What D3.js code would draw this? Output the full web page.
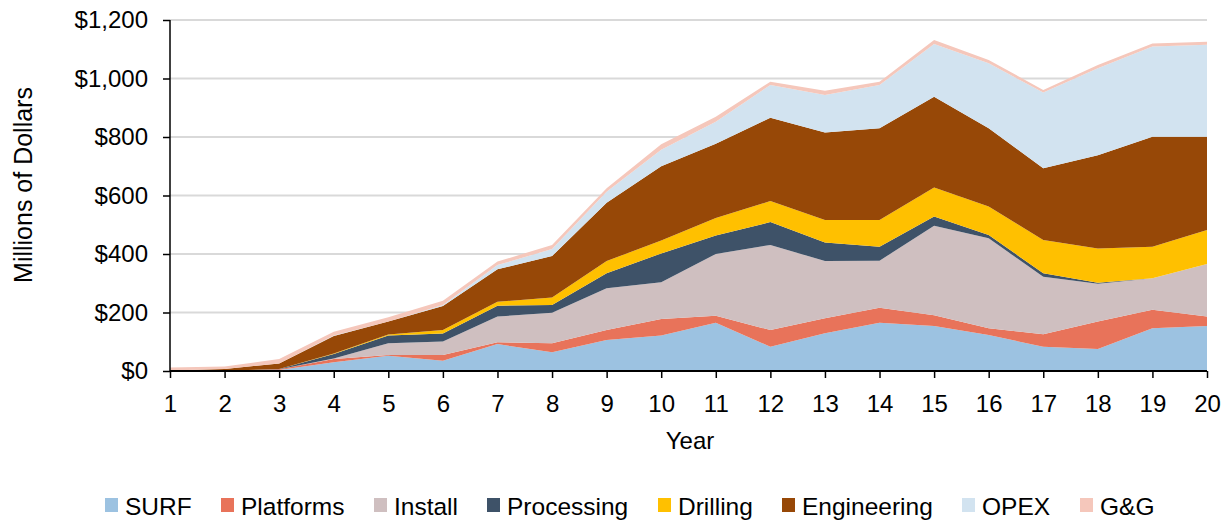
<!DOCTYPE html>
<html>
<head>
<meta charset="utf-8">
<script src="https://cdn.jsdelivr.net/npm/d3@7"></script>
<style>
  html, body { margin: 0; padding: 0; background: #fff; }
  svg { display: block; font-family: "Liberation Sans", Arial, sans-serif; }
</style>
</head>
<body>
<svg id="chart" width="1229" height="523"></svg>
<script>
// ---- data ----
const years = [1,2,3,4,5,6,7,8,9,10,11,12,13,14,15,16,17,18,19,20];
const seriesNames = ["SURF","Platforms","Install","Processing","Drilling","Engineering","OPEX","G&G"];
const surf        = [0, 1, 3, 30, 52, 35, 92, 64, 106, 121, 165, 83, 129, 165, 154, 123, 83, 75, 146, 154];
const platforms   = [0, 0, 3, 11, 3, 20, 6, 31, 34, 57, 24, 57, 51, 51, 37, 23, 43, 94, 63, 32];
const install     = [0, 0, 0, 2, 40, 46, 88, 104, 143, 125, 211, 291, 196, 161, 306, 308, 196, 129, 108, 180];
const processing  = [0, 0, 1, 15, 26, 27, 37, 27, 51, 99, 63, 78, 63, 48, 31, 11, 12, 4, 0, 0];
const drilling    = [0, 0, 0, 2, 4, 12, 14, 25, 42, 44, 60, 72, 77, 91, 99, 97, 114, 117, 108, 116];
const engineering = [2, 6, 19, 60, 44, 82, 111, 142, 199, 254, 254, 285, 299, 314, 311, 268, 245, 319, 376, 319];
const opex        = [0, 0, 0, 1, 0, 4, 14, 24, 38, 56, 75, 112, 129, 148, 180, 222, 259, 297, 308, 314];
const gg          = [10, 8, 15, 13, 15, 14, 12, 14, 12, 19, 17, 11, 14, 11, 14, 11, 9, 11, 11, 11];
const yTicks = [0, 200, 400, 600, 800, 1000, 1200];
const colors = ["#9cc2e1", "#e8735a", "#cfbfc0", "#3e5268", "#ffc000", "#974807", "#d2e3f0", "#f5c7bb"];

// ---- layout ----
const svg = d3.select("#chart");
const mLeft = 170, mRight = 1207, mTop = 20, mBottom = 371;
const fontSize = 24;
const legendFont = 24.5;

const x = d3.scaleLinear().domain([1, 20]).range([mLeft, mRight]);
const y = d3.scaleLinear().domain([0, 1200]).range([mBottom, mTop]);

const valuesBySeries = [surf, platforms, install, processing, drilling, engineering, opex, gg];
const table = years.map((yr, i) => {
  const row = { year: yr };
  seriesNames.forEach((k, j) => row[k] = valuesBySeries[j][i]);
  return row;
});

// gridlines
svg.append("g")
  .selectAll("line")
  .data(yTicks.filter(d => d > 0))
  .join("line")
  .attr("x1", mLeft).attr("x2", mRight)
  .attr("y1", d => y(d)).attr("y2", d => y(d))
  .attr("stroke", "#d9d9d9").attr("stroke-width", 2);

// stacked areas
const stack = d3.stack().keys(seriesNames);
const layers = stack(table);
const area = d3.area()
  .x(d => x(d.data.year))
  .y0(d => y(d[0]))
  .y1(d => y(d[1]));

svg.append("g")
  .selectAll("path")
  .data(layers)
  .join("path")
  .attr("d", area)
  .attr("fill", (d, i) => colors[i]);

// y axis
const yAxis = d3.axisLeft(y)
  .tickValues(yTicks)
  .tickSize(7)
  .tickPadding(15)
  .tickFormat(d => "$" + d3.format(",")(d));
const gy = svg.append("g").attr("transform", `translate(${mLeft},0)`).call(yAxis);
gy.select(".domain").attr("stroke", "#000").attr("stroke-width", 1.5).attr("d", `M0,${mTop}V${mBottom}`);
gy.selectAll(".tick line").attr("stroke", "#000").attr("stroke-width", 1.5);
gy.selectAll("text").attr("font-size", fontSize).attr("fill", "#000")
  .attr("font-family", "Liberation Sans, Arial, sans-serif");

// x axis
const xAxis = d3.axisBottom(x)
  .tickValues(years)
  .tickSize(7)
  .tickPadding(17)
  .tickFormat(d3.format("d"));
const gx = svg.append("g").attr("transform", `translate(0,${mBottom})`).call(xAxis);
gx.select(".domain").attr("stroke", "#000").attr("stroke-width", 2).attr("d", `M${mLeft},0H${mRight}`);
gx.selectAll(".tick line").attr("stroke", "#000").attr("stroke-width", 1.5);
gx.selectAll("text").attr("font-size", fontSize).attr("fill", "#000")
  .attr("font-family", "Liberation Sans, Arial, sans-serif");

// axis titles
svg.append("text")
  .attr("x", 690).attr("y", 449)
  .attr("text-anchor", "middle")
  .attr("font-size", fontSize).attr("fill", "#000")
  .text("Year");

svg.append("text")
  .attr("transform", `translate(32,185) rotate(-90)`)
  .attr("text-anchor", "middle")
  .attr("font-size", 25).attr("fill", "#000")
  .text("Millions of Dollars");

// legend
const legendX = [105, 221, 374, 487, 658, 782, 962, 1080];
const legendY = 498;
const lg = svg.append("g");
seriesNames.forEach((name, i) => {
  lg.append("rect")
    .attr("x", legendX[i]).attr("y", legendY)
    .attr("width", 13).attr("height", 14)
    .attr("fill", colors[i]);
  lg.append("text")
    .attr("x", legendX[i] + 20).attr("y", 515)
    .attr("font-size", legendFont).attr("fill", "#000")
    .text(name);
});
</script>
</body>
</html>
